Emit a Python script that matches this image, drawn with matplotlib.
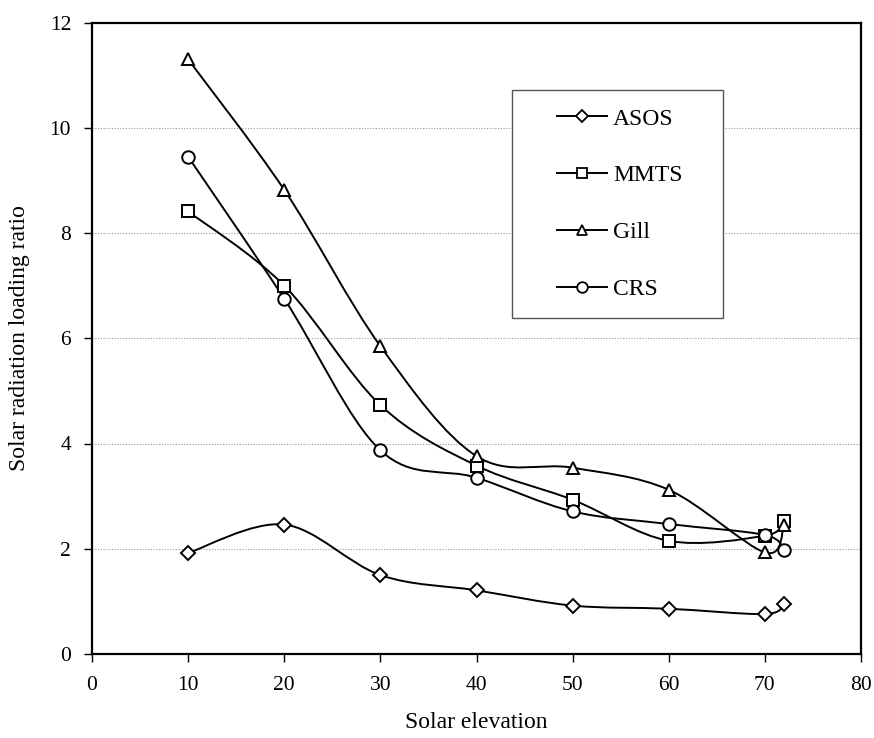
import matplotlib
matplotlib.use("Agg")
import matplotlib.pyplot as plt
from matplotlib.path import Path
from matplotlib.patches import PathPatch, Rectangle
from matplotlib.lines import Line2D
import numpy as np

elevation = [10, 20, 30, 40, 50, 60, 70, 72]
asos = [1.92, 2.46, 1.50, 1.21, 0.92, 0.86, 0.76, 0.95]
mmts = [8.41, 7.00, 4.73, 3.58, 2.93, 2.15, 2.25, 2.52]
gill = [11.30, 8.82, 5.85, 3.76, 3.54, 3.12, 1.93, 2.45]
crs = [9.45, 6.75, 3.87, 3.35, 2.71, 2.47, 2.26, 1.97]

series = [("ASOS", asos, "D", 7), ("MMTS", mmts, "s", 8.5),
          ("Gill", gill, "^", 9), ("CRS", crs, "o", 9)]

plt.rcParams['font.family'] = ['Liberation Serif', 'DejaVu Serif']

W, H = 874, 738
fig = plt.figure(figsize=(W / 100, H / 100), dpi=100)
ax = fig.add_axes([92 / W, 1 - 654 / H, (861 - 92) / W, (654 - 22.5) / H])
ax.set_xlim(0, 80)
ax.set_ylim(0, 12)


def smooth_path(xs, ys):
    pts = np.column_stack([xs, ys]).astype(float)
    n = len(pts)
    verts = [pts[0]]
    codes = [Path.MOVETO]
    for i in range(n - 1):
        p0 = pts[i - 1] if i > 0 else pts[i]
        p1 = pts[i]
        p2 = pts[i + 1]
        p3 = pts[i + 2] if i + 2 < n else pts[i + 1]
        c1 = p1 + (p2 - p0) / 6.0
        c2 = p2 - (p3 - p1) / 6.0
        verts += [c1, c2, p2]
        codes += [Path.CURVE4] * 3
    return Path(verts, codes)


for name, vals, mk, ms in series:
    disp = ax.transData.transform(np.column_stack([elevation, vals]))
    p = smooth_path(disp[:, 0], disp[:, 1])
    patch = PathPatch(p, facecolor='none', edgecolor='black', lw=1.4,
                      transform=None, zorder=2)
    ax.add_artist(patch)
    ax.plot(elevation, vals, linestyle='none', marker=mk, markersize=ms,
            markerfacecolor='white', markeredgecolor='black',
            markeredgewidth=1.4, zorder=3)

ax.set_xticks(range(0, 81, 10))
ax.set_yticks(range(0, 13, 2))
ax.tick_params(axis='both', direction='out', length=6, width=1, labelsize=15.5,
               color='black')
ax.tick_params(axis='x', pad=10)
ax.tick_params(axis='y', pad=9)
for ytick in [2, 4, 6, 8, 10]:
    ax.axhline(ytick, color='#999999', lw=0.8, linestyle=(0, (1, 1.5)), zorder=1)
for s in ax.spines.values():
    s.set_linewidth(1.6)
    s.set_color('black')

ax.set_xlabel("Solar elevation", fontsize=17, labelpad=12)
ax.set_ylabel("Solar radiation loading ratio", fontsize=17, labelpad=14)

# legend frame
fig.patches.append(Rectangle((512 / W, 1 - 318 / H), (723 - 512) / W,
                             (318 - 90) / H, transform=fig.transFigure,
                             facecolor='white', edgecolor='#555555', lw=1.0,
                             zorder=5))
handles = [Line2D([0], [0], color='black', lw=1.4, marker=mk, markersize=ms * 0.85,
                  markerfacecolor='white', markeredgecolor='black',
                  markeredgewidth=1.3) for _, _, mk, ms in series]
labels = [s[0] for s in series]
leg = fig.legend(handles, labels, loc='upper left',
                 bbox_to_anchor=(557 / W, 1 - 108 / H),
                 bbox_transform=fig.transFigure,
                 frameon=False, fontsize=17,
                 handlelength=2.12, handletextpad=0.25, labelspacing=1.5,
                 borderpad=0, borderaxespad=0)
leg.set_zorder(6)
fig.savefig("out.png", dpi=100)
